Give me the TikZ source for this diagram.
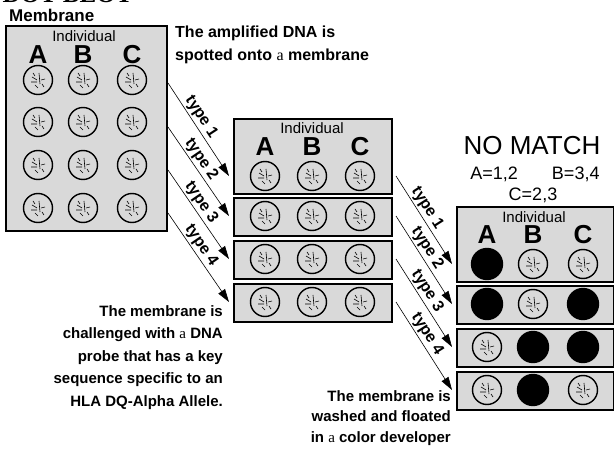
\documentclass[tikz,border=0pt]{standalone}
\usepackage{fontspec}
\setmainfont{Liberation Serif}
\setsansfont{Liberation Sans}
\usepackage{tikz}
\usetikzlibrary{arrows.meta}
\usetikzlibrary{positioning}
\newcommand{\sera}{{\rmfamily\mdseries a}}

\begin{document}
\begin{tikzpicture}[x=1pt, y=-1pt,
        membrane/.style={draw, line width=1.7pt, fill=black!15, inner sep=0pt, anchor=north west},
        spot/.style={circle, draw, line width=1.4pt, minimum size=29pt, inner sep=0pt},
        hit/.style={spot, fill=black, minimum size=31pt},
        arr/.style={line width=0.6pt, -{Triangle[length=13pt, width=8pt]}},
        typelbl/.style={font=\sffamily\bfseries\fontsize{16}{16}\selectfont, sloped, above, pos=0.42, inner sep=1.5pt},
        indiv/.style={font=\sffamily\fontsize{15}{15}\selectfont, inner sep=0pt},
        abc/.style={font=\sffamily\bfseries\fontsize{26}{26}\selectfont, inner sep=0pt},
        dna/.pic={\draw[line width=0.6pt] (-6,-3) -- (-1,0) (-7,2) -- (-1,2) (1,-7) -- (2,4)
                   (3,0) -- (7,-1) (-3,5) -- (0,8) (4,4) -- (6,7) (-5,-7) -- (-3,-4);}]
            \useasboundingbox                                                  (0,0) rectangle (614,449);
            % Title and captions
            \node[anchor=base west, font=\rmfamily\bfseries\fontsize{25}{25}\selectfont] (title) at (-1,3) {DOT BLOT};
            \node[anchor=north west, inner sep=0pt, font=\sffamily\bfseries\fontsize{17}{17}\selectfont] (memlbl) at (9,9) {Membrane};
            \node[anchor=north west, inner sep=0pt, align=left, font=\sffamily\bfseries\fontsize{16}{23}\selectfont] (spotted) at (175,26)
                {The amplified DNA is\\spotted onto \sera{} membrane};
            \node[anchor=north east, inner sep=0pt, align=right, font=\sffamily\bfseries\fontsize{15}{22.5}\selectfont] (probe) at (223,305)
                {The membrane is\\challenged with \sera{} DNA\\probe that has a key\\sequence specific to an\\HLA DQ-Alpha Allele.};
            \node[anchor=north east, inner sep=0pt, align=right, font=\sffamily\bfseries\fontsize{15}{20.5}\selectfont] (washed) at (451,390)
                {The membrane is\\washed and floated\\in \sera{} color developer};
            \node[inner sep=0pt, font=\sffamily\fontsize{26}{26}\selectfont] (nomatch) at (532,146) {NO MATCH};
            \node[inner sep=0pt, font=\sffamily\fontsize{18}{18}\selectfont] (codeAB) at (535,174) {A=1,2\hspace{34pt}B=3,4};
            \node[inner sep=0pt, font=\sffamily\fontsize{18}{18}\selectfont] (codeC) at (533,195) {C=2,3};

            % Spotted membrane
            \node[membrane, minimum width=161pt, minimum height=205pt] (left) at (5,25) {};
            \node[indiv] (leftind) at (84,36) {Individual};
            \foreach \c/\x in {A/38, B/83, C/132} {
                \node[abc] (l-\c) at (\x,55) {\c};
                \foreach \r/\y in {1/80, 2/122, 3/165, 4/208} {
                    \node[spot] (l-\r-\c) at (\x,\y) {};
                    \pic at (\x,\y) {dna};
                }
            }

            % Membrane cut into strips
            \node[membrane, minimum width=158pt, minimum height=75pt] (m1) at (233,118) {};
            \node[membrane, minimum width=158pt, minimum height=38pt] (m2) at (233,197) {};
            \node[membrane, minimum width=158pt, minimum height=38pt] (m3) at (233,240) {};
            \node[membrane, minimum width=158pt, minimum height=38pt] (m4) at (233,283) {};
            \node[indiv] (midind) at (312,128) {Individual};
            \foreach \c/\x in {A/265, B/312, C/360} {
                \node[abc] (m-\c) at (\x,147) {\c};
                \foreach \r/\y in {1/176, 2/216, 3/259, 4/302} {
                    \node[spot] (m-\r-\c) at (\x,\y) {};
                    \pic at (\x,\y) {dna};
                }
            }

            % Developed strips
            \node[membrane, minimum width=157pt, minimum height=75pt] (r1) at (456,206) {};
            \node[membrane, minimum width=157pt, minimum height=38pt] (r2) at (456,285) {};
            \node[membrane, minimum width=157pt, minimum height=38pt] (r3) at (456,328) {};
            \node[membrane, minimum width=157pt, minimum height=38pt] (r4) at (456,371) {};
            \node[indiv] (rightind) at (534,217) {Individual};
            \foreach \c/\x in {A/487, B/533, C/583}
                \node[abc] (r-\c) at (\x,235) {\c};
            \foreach \r/\y/\a/\b/\cc in {1/264/hit/spot/spot, 2/304/hit/spot/hit, 3/347/spot/hit/hit, 4/390/spot/hit/spot} {
                \node[\a]  (r-\r-A) at (487,\y) {};
                \node[\b]  (r-\r-B) at (533,\y) {};
                \node[\cc] (r-\r-C) at (583,\y) {};
            }
            \foreach \r/\y in {1/264, 2/304, 3/347, 4/390}
                \foreach \x in {487, 533, 583}
                    \pic at (\x,\y) {dna};

            % Probe arrows
            \foreach \k/\ys/\ye in {1/83/176, 2/127/216, 3/170/259, 4/213/302} {
                \coordinate (p\k) at (168,\ys);
                \coordinate (q\k) at (229,\ye);
                \draw[arr] (p\k) -- node[typelbl] {type \k} (q\k);
            }
            % Developer arrows
            \foreach \k/\ys/\ye in {1/176/264, 2/216/304, 3/259/347, 4/302/390} {
                \coordinate (s\k) at (396,\ys);
                \coordinate (t\k) at (452,\ye);
                \draw[arr] (s\k) -- node[typelbl] {type \k} (t\k);
            }
        \end{tikzpicture}
\end{document}
